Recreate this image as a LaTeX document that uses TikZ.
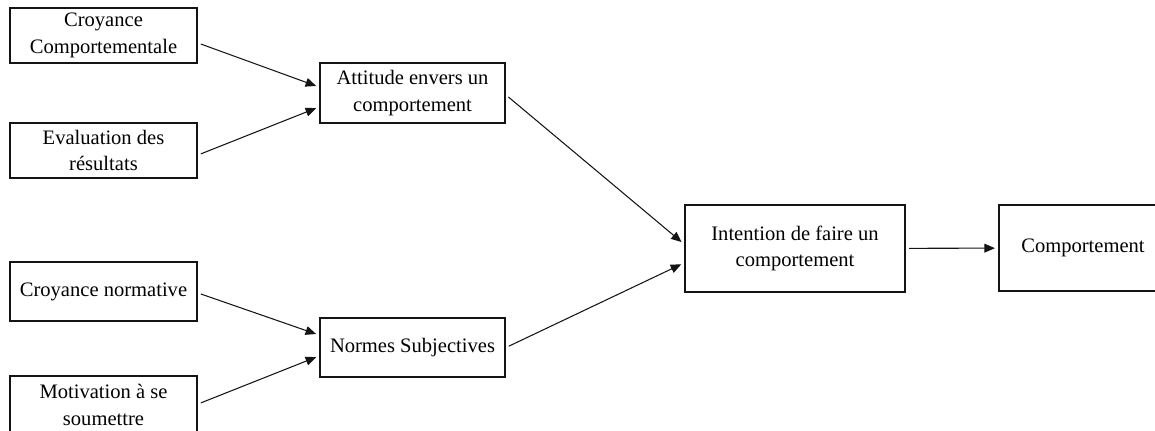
\documentclass[tikz,border=0pt]{standalone}
\usepackage{fontspec}
\setmainfont{Liberation Serif}
\usetikzlibrary{arrows.meta,positioning,calc}
\definecolor{ink}{RGB}{20,20,20}
\tikzset{
  >={Triangle[length=6pt,width=5pt]},
  cell/.style={draw=ink,line width=1.2pt,fill=white,align=center,
    minimum width=#1,inner sep=2pt,
    font=\fontsize{11.7}{15.3}\selectfont},
  cell/.default=3.74cm,
  link/.style={->,draw=ink,line width=0.6pt,shorten <=0.06cm,shorten >=0.06cm},
}

\begin{document}
\begin{tikzpicture}[x=0.02cm,y=-0.02cm]
    \useasboundingbox (0,0) rectangle (1155,430);
    \begin{scope}
    \clip (0,0) rectangle (1155,430);
    % inputs
    \node[cell,minimum height=1.1cm] (croy) at (103.5,35.5) {Croyance\\Comportementale};
    \node[cell,minimum height=1.1cm] (eval) at (103.5,150.5) {Evaluation des\\résultats};
    \node[cell,minimum height=1.18cm] (norm) at (103.5,291.5) {Croyance normative};
    \node[cell,minimum height=1.15cm] (motiv) at (103.5,405) {Motivation à se\\soumettre};
    % middle
    \node[cell=3.7cm,minimum height=1.2cm] (att) at (412.5,93) {Attitude envers un\\comportement};
    \node[cell=3.7cm,minimum height=1.18cm] (ns) at (412.5,347.5) {Normes Subjectives};
    % outputs
    \node[cell=4.4cm,minimum height=1.74cm] (intent) at (795,248.5) {Intention de faire un\\comportement};
    \node[cell=3.36cm,minimum height=1.72cm] (comp) at (1083,248) {Comportement};
    \end{scope}
    \draw[link] ($(croy.east)+(0,7.5)$) -- ($(att.west)+(0,-6)$);
    \draw[link] ($(eval.east)+(0,4.5)$) -- ($(att.west)+(0,14)$);
    \draw[link] ($(norm.east)+(0,1.5)$) -- ($(ns.west)+(0,-12.5)$);
    \draw[link] ($(motiv.east)+(0,-1)$) -- ($(ns.west)+(0,8.5)$);
    \draw[link] ($(att.east)+(0,2)$) -- ($(intent.west)+(0,-4.5)$);
    \draw[link] (ns.east) -- ($(intent.west)+(0,14.5)$);
    \draw[link] (intent) -- (comp);
\end{tikzpicture}
\end{document}
